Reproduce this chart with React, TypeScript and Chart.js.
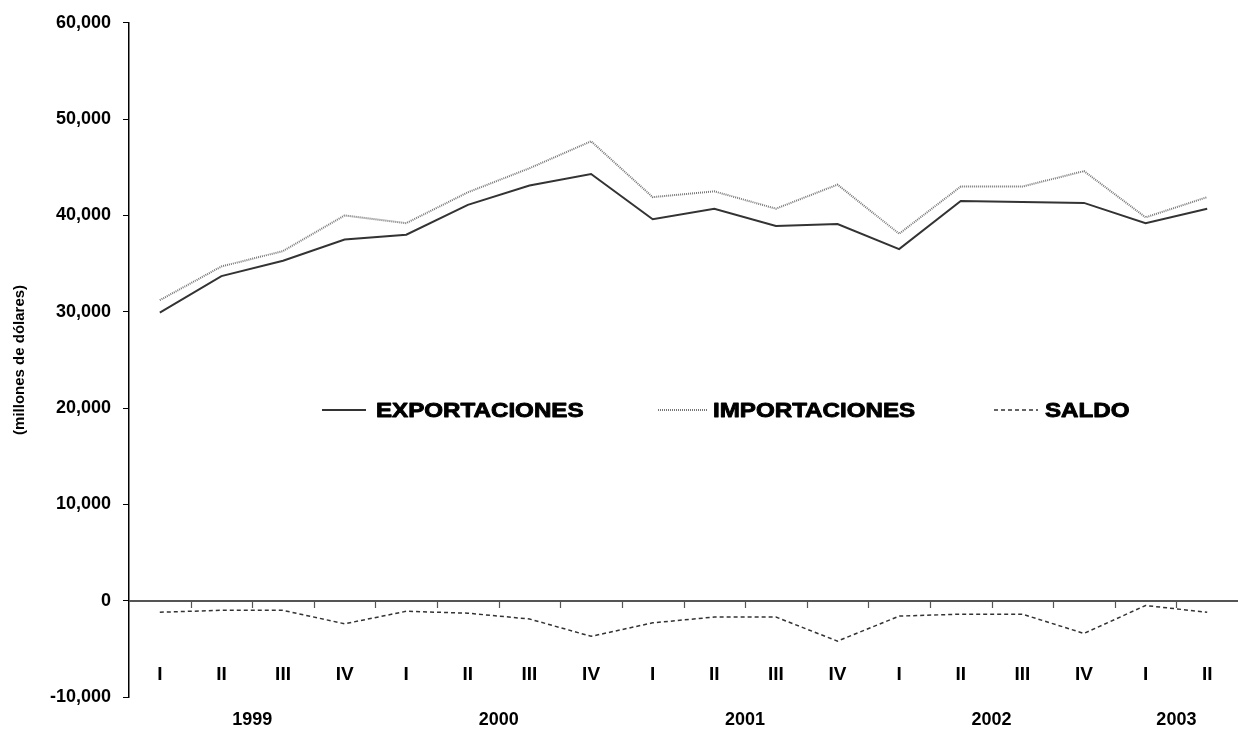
import React, { useEffect, useRef } from "react";
import { Chart, registerables } from "chart.js";

Chart.register(...registerables);

const quarters = ["I", "II", "III", "IV", "I", "II", "III", "IV", "I", "II", "III", "IV", "I", "II", "III", "IV", "I", "II"];
const years = ["1999", "1999", "1999", "1999", "2000", "2000", "2000", "2000", "2001", "2001", "2001", "2001", "2002", "2002", "2002", "2002", "2003", "2003"];

const exportaciones = [29900, 33700, 35300, 37500, 38000, 41100, 43100, 44300, 39600, 40700, 38900, 39100, 36500, 41500, 41400, 41300, 39200, 40700];
const importaciones = [31200, 34700, 36300, 40000, 39200, 42400, 44900, 47700, 41900, 42500, 40700, 43200, 38100, 43000, 43000, 44600, 39800, 41900];
const saldo = [-1200, -1000, -1000, -2400, -1100, -1300, -1900, -3700, -2300, -1700, -1700, -4200, -1600, -1400, -1400, -3400, -500, -1200];

const seriesNames = ["EXPORTACIONES", "IMPORTACIONES", "SALDO"];
const yMin = -10000;
const yMax = 60000;
const yStep = 10000;
const yTitle = "(millones de dólares)";

const FONT = "'Liberation Sans', Arial, sans-serif";

const legendLayout = [
  { sx0: 322, sx1: 366, tx: 376, color: "#333", width: 2, dash: [] as number[] },
  { sx0: 658, sx1: 708, tx: 713, color: "#777", width: 2, dash: [1, 1] },
  { sx0: 994, sx1: 1038, tx: 1045, color: "#333", width: 1.5, dash: [4, 3] },
];

const customPlugin = {
  id: "customDecor",
  beforeDatasetsDraw(chart: any) {
    const { ctx, chartArea, scales } = chart;
    const x = scales.x;
    const y = scales.y;
    const y0 = Math.round(y.getPixelForValue(0));
    ctx.save();
    ctx.strokeStyle = "#555";
    ctx.lineWidth = 2;
    ctx.beginPath();
    ctx.moveTo(chartArea.left, y0);
    ctx.lineTo(chartArea.right, y0);
    ctx.stroke();
    ctx.lineWidth = 1.2;
    ctx.beginPath();
    for (let i = 0; i < quarters.length - 1; i++) {
      const px = Math.round((x.getPixelForValue(i) + x.getPixelForValue(i + 1)) / 2) + 0.5;
      ctx.moveTo(px, y0);
      ctx.lineTo(px, y0 + 7);
    }
    ctx.stroke();
    ctx.restore();
  },
  afterDraw(chart: any) {
    const { ctx, chartArea, scales } = chart;
    const x = scales.x;
    const y = scales.y;
    const y0 = y.getPixelForValue(0);
    ctx.save();
    ctx.fillStyle = "#000";
    ctx.textAlign = "center";
    ctx.textBaseline = "middle";
    ctx.font = `bold 19px ${FONT}`;
    quarters.forEach((q, i) => {
      ctx.fillText(q, x.getPixelForValue(i), y0 + 74);
    });
    const uniqueYears = Array.from(new Set(years));
    ctx.font = `bold 18px ${FONT}`;
    uniqueYears.forEach((yr) => {
      const idx = years.map((v, i) => (v === yr ? i : -1)).filter((i) => i >= 0);
      const cx = idx.reduce((s, i) => s + x.getPixelForValue(i), 0) / idx.length;
      ctx.fillText(yr, cx, chartArea.bottom + 23);
    });
    // legend
    const ly = 410;
    ctx.font = `bold 21px ${FONT}`;
    ctx.textAlign = "left";
    legendLayout.forEach((l, i) => {
      ctx.save();
      ctx.strokeStyle = l.color;
      ctx.lineWidth = l.width;
      ctx.setLineDash(l.dash);
      ctx.beginPath();
      ctx.moveTo(l.sx0, ly);
      ctx.lineTo(l.sx1, ly);
      ctx.stroke();
      ctx.restore();
      ctx.save();
      ctx.translate(l.tx, ly);
      ctx.scale(1.15, 1);
      ctx.strokeStyle = "#000";
      ctx.lineWidth = 0.9;
      ctx.lineJoin = "round";
      ctx.strokeText(seriesNames[i], 0, 1);
      ctx.fillText(seriesNames[i], 0, 1);
      ctx.restore();
    });
    ctx.restore();
  },
};

export default function App() {
  const ref = useRef<HTMLCanvasElement | null>(null);
  useEffect(() => {
    if (!ref.current) return;
    const chart = new Chart(ref.current, {
      type: "line",
      data: {
        labels: quarters,
        datasets: [
          {
            label: seriesNames[0],
            data: exportaciones,
            borderColor: "#333",
            borderWidth: 2,
            pointRadius: 0,
            tension: 0,
          },
          {
            label: seriesNames[1],
            data: importaciones,
            borderColor: "#777",
            borderWidth: 2,
            borderDash: [1, 1],
            pointRadius: 0,
            tension: 0,
          },
          {
            label: seriesNames[2],
            data: saldo,
            borderColor: "#333",
            borderWidth: 1.5,
            borderDash: [4, 3],
            pointRadius: 0,
            tension: 0,
          },
        ],
      },
      options: {
        animation: false,
        responsive: false,
        layout: { padding: { left: 0, right: 0, top: 18, bottom: 37 } },
        plugins: { legend: { display: false }, tooltip: { enabled: false } },
        scales: {
          x: { type: "category", offset: true, display: false },
          y: {
            min: yMin,
            max: yMax,
            afterFit: (scale: any) => {
              scale.width = 129;
            },
            ticks: {
              stepSize: yStep,
              color: "#000",
              padding: 12,
              font: { family: FONT, size: 18, weight: "bold" },
              callback: (v: any) => Number(v).toLocaleString("en-US"),
            },
            grid: { drawOnChartArea: false, drawTicks: true, tickLength: 6, color: "#000", lineWidth: 1 },
            border: { display: true, color: "#000", width: 1.5 },
            title: {
              display: true,
              text: yTitle,
              color: "#000",
              font: { family: FONT, size: 15, weight: "bold" },
              padding: { top: 11, bottom: 0 },
            },
          },
        },
      },
      plugins: [customPlugin],
    });
    return () => chart.destroy();
  }, []);
  return (
    <div style={{ position: "fixed", left: 0, top: 0, width: 1238, height: 734, background: "#fff" }}>
      <canvas ref={ref} width={1238} height={734} style={{ display: "block" }} />
    </div>
  );
}
